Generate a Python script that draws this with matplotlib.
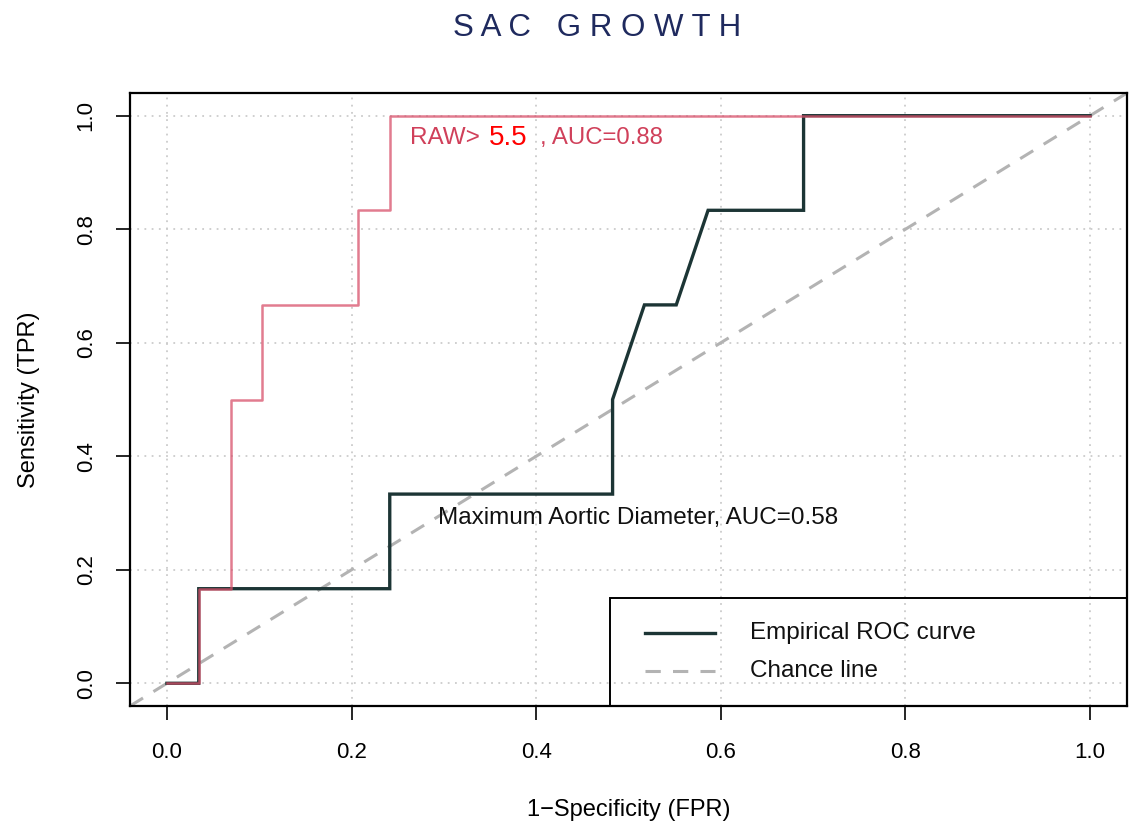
import numpy as np
import matplotlib
matplotlib.use("Agg")
import matplotlib.pyplot as plt

plt.rcParams['font.family'] = ['Liberation Sans', 'DejaVu Sans']

# ROC points (29 negatives, 6 positives)
n_neg = 29
raw_fpr_k = [0, 1, 1, 2, 2, 3, 3, 6, 6, 7, 7, 29]
raw_tpr_k = [0, 0, 1, 1, 3, 3, 4, 4, 5, 5, 6, 6]
mad_fpr_k = [0, 1, 1, 7, 7, 14, 14, 15, 16, 17, 20, 20, 29]
mad_tpr_k = [0, 0, 1, 1, 2, 2, 3, 4, 4, 5, 5, 6, 6]

raw_fpr = np.array(raw_fpr_k) / n_neg
raw_tpr = np.array(raw_tpr_k) / 6
mad_fpr = np.array(mad_fpr_k) / n_neg
mad_tpr = np.array(mad_tpr_k) / 6

ticks = [0.0, 0.2, 0.4, 0.6, 0.8, 1.0]
tick_labels = ['0.0', '0.2', '0.4', '0.6', '0.8', '1.0']

fig = plt.figure(figsize=(11.32, 8.25), dpi=100)
ax = fig.add_axes([130/1132, 1 - 706/825, (1127-130)/1132, (706-93)/825])

ax.set_xlim(-0.04, 1.04)
ax.set_ylim(-0.04, 1.04)

for t in ticks:
    ax.axvline(t, color='#cccccc', lw=1.3, ls=(0, (1, 3)), zorder=0)
    ax.axhline(t, color='#cccccc', lw=1.3, ls=(0, (1, 3)), zorder=0)

ax.plot([-0.04, 1.04], [-0.04, 1.04], color='#b3b3b3', lw=2.2, ls=(0, (5, 4)), zorder=1)
ax.plot(mad_fpr, mad_tpr, color='#1c3535', lw=2.4, zorder=2, solid_joinstyle='miter')
ax.plot(raw_fpr, raw_tpr, color='#d8506a', lw=1.8, alpha=0.75, zorder=3)

ax.text(0.263, 0.961, 'RAW>', color='#d0405a', fontsize=17.5, va='center', ha='left')
ax.text(0.349, 0.961, '5.5', color='#ff0000', fontsize=20, va='center', ha='left')
ax.text(0.404, 0.961, ', AUC=0.88', color='#d0405a', fontsize=17.3, va='center', ha='left')
ax.text(0.294, 0.292, 'Maximum Aortic Diameter, AUC=0.58', color='#111111',
        fontsize=17.5, va='center', ha='left')

# legend box drawn by hand in data coords like R's legend
ax.add_patch(plt.Rectangle((0.48, -0.04), 0.56, 0.191, fill=False, ec='black', lw=1.4, zorder=4))
ax.plot([0.518, 0.594], [0.089, 0.089], color='#1c3535', lw=2.4, zorder=5)
ax.plot([0.518, 0.594], [0.022, 0.022], color='#b3b3b3', lw=2.2, ls=(0, (5, 4)), zorder=5)
ax.text(0.632, 0.089, 'Empirical ROC curve', fontsize=17.5, va='center', color='#111111')
ax.text(0.632, 0.022, 'Chance line', fontsize=17.5, va='center', color='#111111')

ax.set_xticks(ticks)
ax.set_xticklabels(tick_labels, fontsize=16)
ax.set_yticks(ticks)
ax.set_yticklabels(tick_labels, fontsize=16, rotation=90, va='center')
ax.tick_params(length=10, width=1.2)
ax.tick_params(axis='x', pad=16)
ax.tick_params(axis='y', pad=14)
for s in ax.spines.values():
    s.set_linewidth(1.6)

ax.set_xlabel('1\u2212Specificity (FPR)', fontsize=17, labelpad=26)
ax.set_ylabel('Sensitivity (TPR)', fontsize=17, labelpad=26)

fig.text(597/1132, 1 - 28/825, 'S A C   G R O W T H', color='#1f2a5e', fontsize=22.5,
         ha='center', va='center')

fig.savefig('out.png', dpi=100)
